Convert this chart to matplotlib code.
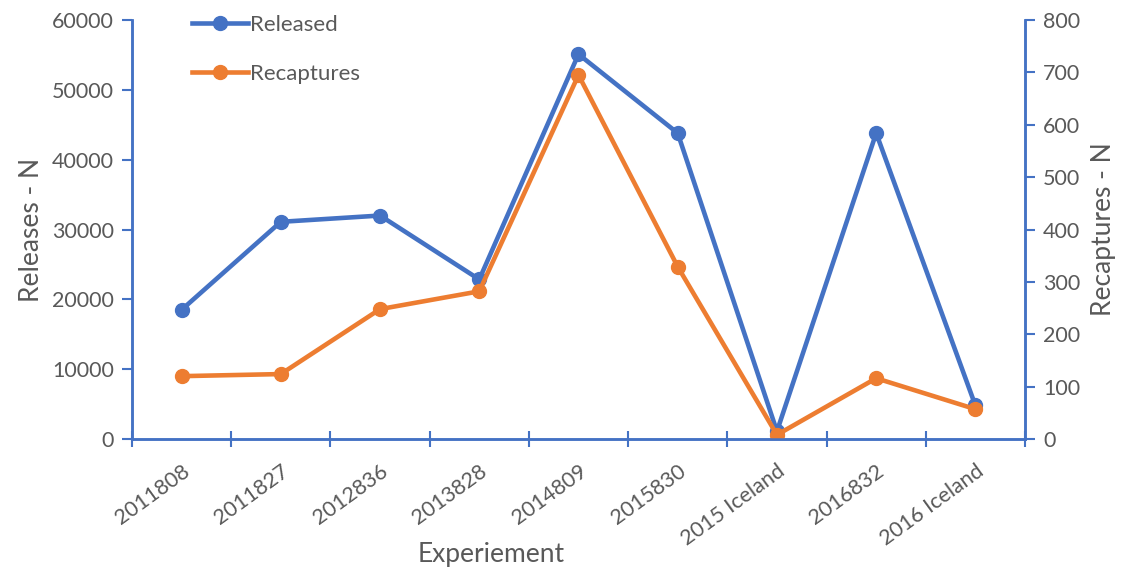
import numpy as np
import matplotlib.pyplot as plt

# Data
experiments = ['2011808', '2011827', '2012836', '2013828', '2014809',
               '2015830', '2015 Iceland', '2016832', '2016 Iceland']
released = [18500, 31100, 32000, 22850, 55100, 43800, 1100, 43800, 4800]
recaptures = [120, 124, 248, 282, 695, 329, 8, 116, 57]

BLUE = '#4472C4'
ORANGE = '#ED7D31'
GREY = '#595959'

plt.rcParams['font.family'] = ['Lato', 'DejaVu Sans']

fig = plt.figure(figsize=(11.27, 5.75), dpi=100)
ax = fig.add_axes([0.1171, 0.2365, 0.7924, 0.7287])
ax2 = ax.twinx()

x = np.arange(len(experiments))
l1, = ax.plot(x, released, color=BLUE, lw=3.3, marker='o', ms=10, label='Released')
l2, = ax2.plot(x, recaptures, color=ORANGE, lw=3.3, marker='o', ms=10, label='Recaptures')

ax.set_xlim(-0.5, len(experiments) - 0.5)
ax.set_ylim(0, 60000)
ax2.set_ylim(0, 800)
ax.set_yticks(np.arange(0, 60001, 10000))
ax2.set_yticks(np.arange(0, 801, 100))

# category boundaries carry the tick marks, centres carry the labels
ax.set_xticks(np.arange(-0.5, len(experiments)))
ax.set_xticklabels([])
ax.set_xticks(x, minor=True)
ax.set_xticklabels(experiments, minor=True, rotation=36, ha='right',
                   rotation_mode='anchor', fontsize=15.5, color=GREY)
ax.tick_params(axis='x', which='major', direction='inout', length=12,
               width=1.5, color=BLUE)
ax.tick_params(axis='x', which='minor', length=0, pad=16)

ax.tick_params(axis='y', length=7, width=1.5, color=BLUE, labelsize=15.5,
               labelcolor=GREY, pad=6)
ax2.tick_params(axis='y', length=7, width=1.5, color=BLUE, labelsize=15.5,
                labelcolor=GREY, pad=6)

for a in (ax, ax2):
    a.spines['top'].set_visible(False)
    for s in ('left', 'right', 'bottom'):
        a.spines[s].set_color(BLUE)
        a.spines[s].set_linewidth(1.8)

ax.set_ylabel('Releases - N', fontsize=19, color=GREY, labelpad=6)
ax2.set_ylabel('Recaptures - N', fontsize=19, color=GREY, labelpad=8)
ax.set_xlabel('Experiement', fontsize=19, color=GREY)
ax.xaxis.set_label_coords(0.402, -0.245)

ax.legend([l1, l2], ['Released', 'Recaptures'], loc='upper left',
          bbox_to_anchor=(0.045, 1.06), frameon=False, fontsize=16,
          labelcolor=GREY, handlelength=2.5, handletextpad=0.1,
          labelspacing=1.3)

fig.savefig('out.png', dpi=100)
